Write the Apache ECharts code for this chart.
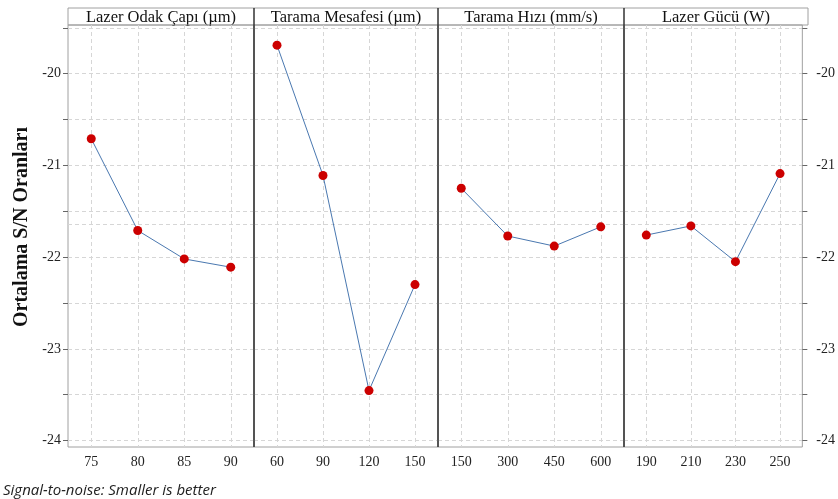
<!DOCTYPE html>
<html>
<head>
<meta charset="utf-8">
<script src="https://cdn.jsdelivr.net/npm/echarts@6/dist/echarts.min.js"></script>
<style>
html,body{margin:0;padding:0;background:#fff;}
#chart{width:838px;height:499px;}
</style>
</head>
<body>
<div id="chart"></div>
<script>
// ---- data ----
const panelTitles = ['Lazer Odak Çapı (µm)', 'Tarama Mesafesi (µm)', 'Tarama Hızı (mm/s)', 'Lazer Gücü (W)'];
const levels1 = ['75', '80', '85', '90'];
const levels2 = ['60', '90', '120', '150'];
const levels3 = ['150', '300', '450', '600'];
const levels4 = ['190', '210', '230', '250'];
const snLazerOdak = [-20.71, -21.71, -22.02, -22.11];
const snTaramaMesafe = [-19.69, -21.11, -23.455, -22.30];
const snTaramaHiz = [-21.25, -21.77, -21.88, -21.67];
const snLazerGuc = [-21.76, -21.66, -22.05, -21.09];
const yTickValues = [-24, -23.5, -23, -22.5, -22, -21.5, -21, -20.5, -20, -19.5];
const yLabelValues = [-24, -23, -22, -21, -20];
const yTitle = 'Ortalama S/N Oranları';
const footnote = 'Signal-to-noise: Smaller is better';

const levels = [levels1, levels2, levels3, levels4];
const values = [snLazerOdak, snTaramaMesafe, snTaramaHiz, snLazerGuc];

// ---- layout ----
const edges = [68, 254, 438, 624, 808];
const plotTop = 25, plotBottomPx = 447, frameTop = 8;
const W = 838, H = 499;
const yMin = -24.07, yMax = -19.47;
const serifName = 'Liberation Serif';
const serif = '"Liberation Serif", serif';
const gridColor = '#d6d6d6';

const allVals = values.flat();
const grandMean = allVals.reduce((a, b) => a + b, 0) / allVals.length;

const grids = [], xAxes = [], yAxes = [], series = [], graphics = [];
for (let i = 0; i < 4; i++) {
  grids.push({
    left: edges[i], width: edges[i + 1] - edges[i], top: plotTop, bottom: H - plotBottomPx,
    show: true, borderColor: '#a0a0a0', borderWidth: 1, containLabel: false
  });
  const cats = [''];
  levels[i].forEach(l => { cats.push(l); cats.push(''); });
  const every2 = (idx) => idx % 2 === 1;
  xAxes.push({
    type: 'category', gridIndex: i, data: cats, boundaryGap: false,
    axisLine: { show: false },
    axisTick: { show: false },
    axisLabel: { interval: every2, margin: 8, fontFamily: serifName, fontSize: 14, color: '#222' },
    splitLine: { show: true, interval: every2, lineStyle: { color: gridColor, type: [4, 3], width: 1 } }
  });
  const isLeft = i === 0, isRight = i === 3;
  yAxes.push({
    type: 'value', gridIndex: i, min: yMin, max: yMax, splitNumber: 9,
    position: isRight ? 'right' : 'left',
    axisLine: { show: false },
    axisTick: { show: isLeft || isRight, length: 5, customValues: yTickValues, lineStyle: { color: '#666' } },
    axisLabel: {
      show: isLeft || isRight, customValues: yLabelValues,
      margin: isRight ? 14 : 7, fontFamily: serifName, fontSize: 14, color: '#222',
      formatter: v => String(v)
    },
    splitLine: { show: true, lineStyle: { color: gridColor, type: [4, 3], width: 1 } }
  });
  series.push({
    type: 'line', xAxisIndex: i, yAxisIndex: i,
    data: values[i].map((v, k) => [2 * k + 1, v]),
    symbol: 'circle', symbolSize: 9,
    itemStyle: { color: '#cc0000' },
    lineStyle: { color: '#4a78b0', width: 1 },
    z: 5,
    markLine: {
      silent: true, symbol: 'none', label: { show: false },
      lineStyle: { color: gridColor, type: [4, 3], width: 1 },
      data: [{ yAxis: grandMean }]
    }
  });
  graphics.push({
    type: 'text', x: (edges[i] + edges[i + 1]) / 2, y: (frameTop + plotTop) / 2 + 1,
    style: { text: panelTitles[i], font: '16.5px ' + serif, fill: '#111', textAlign: 'center', textVerticalAlign: 'middle' }
  });
}
graphics.push({
  type: 'rect', shape: { x: edges[0], y: frameTop, width: edges[4] - edges[0], height: plotTop - frameTop },
  style: { fill: 'none', stroke: '#a0a0a0', lineWidth: 1 }
});
for (let i = 1; i < 4; i++) {
  graphics.push({
    type: 'line', shape: { x1: edges[i], y1: frameTop, x2: edges[i], y2: plotBottomPx },
    style: { stroke: '#333', lineWidth: 1.5 }, z: 10
  });
}
graphics.push({
  type: 'text', x: 22, y: 227, rotation: Math.PI / 2,
  style: { text: yTitle, font: 'bold 20px ' + serif, fill: '#111', textAlign: 'center', textVerticalAlign: 'middle' }
});
graphics.push({
  type: 'text', x: 3, y: 491,
  style: { text: footnote, font: 'italic 15px "Open Sans", sans-serif', fill: '#222', textAlign: 'left', textVerticalAlign: 'middle' }
});

const chart = echarts.init(document.getElementById('chart'), null, { renderer: 'canvas' });
chart.setOption({
  animation: false,
  backgroundColor: '#fff',
  grid: grids, xAxis: xAxes, yAxis: yAxes, series: series,
  graphic: graphics
});
</script>
</body>
</html>
